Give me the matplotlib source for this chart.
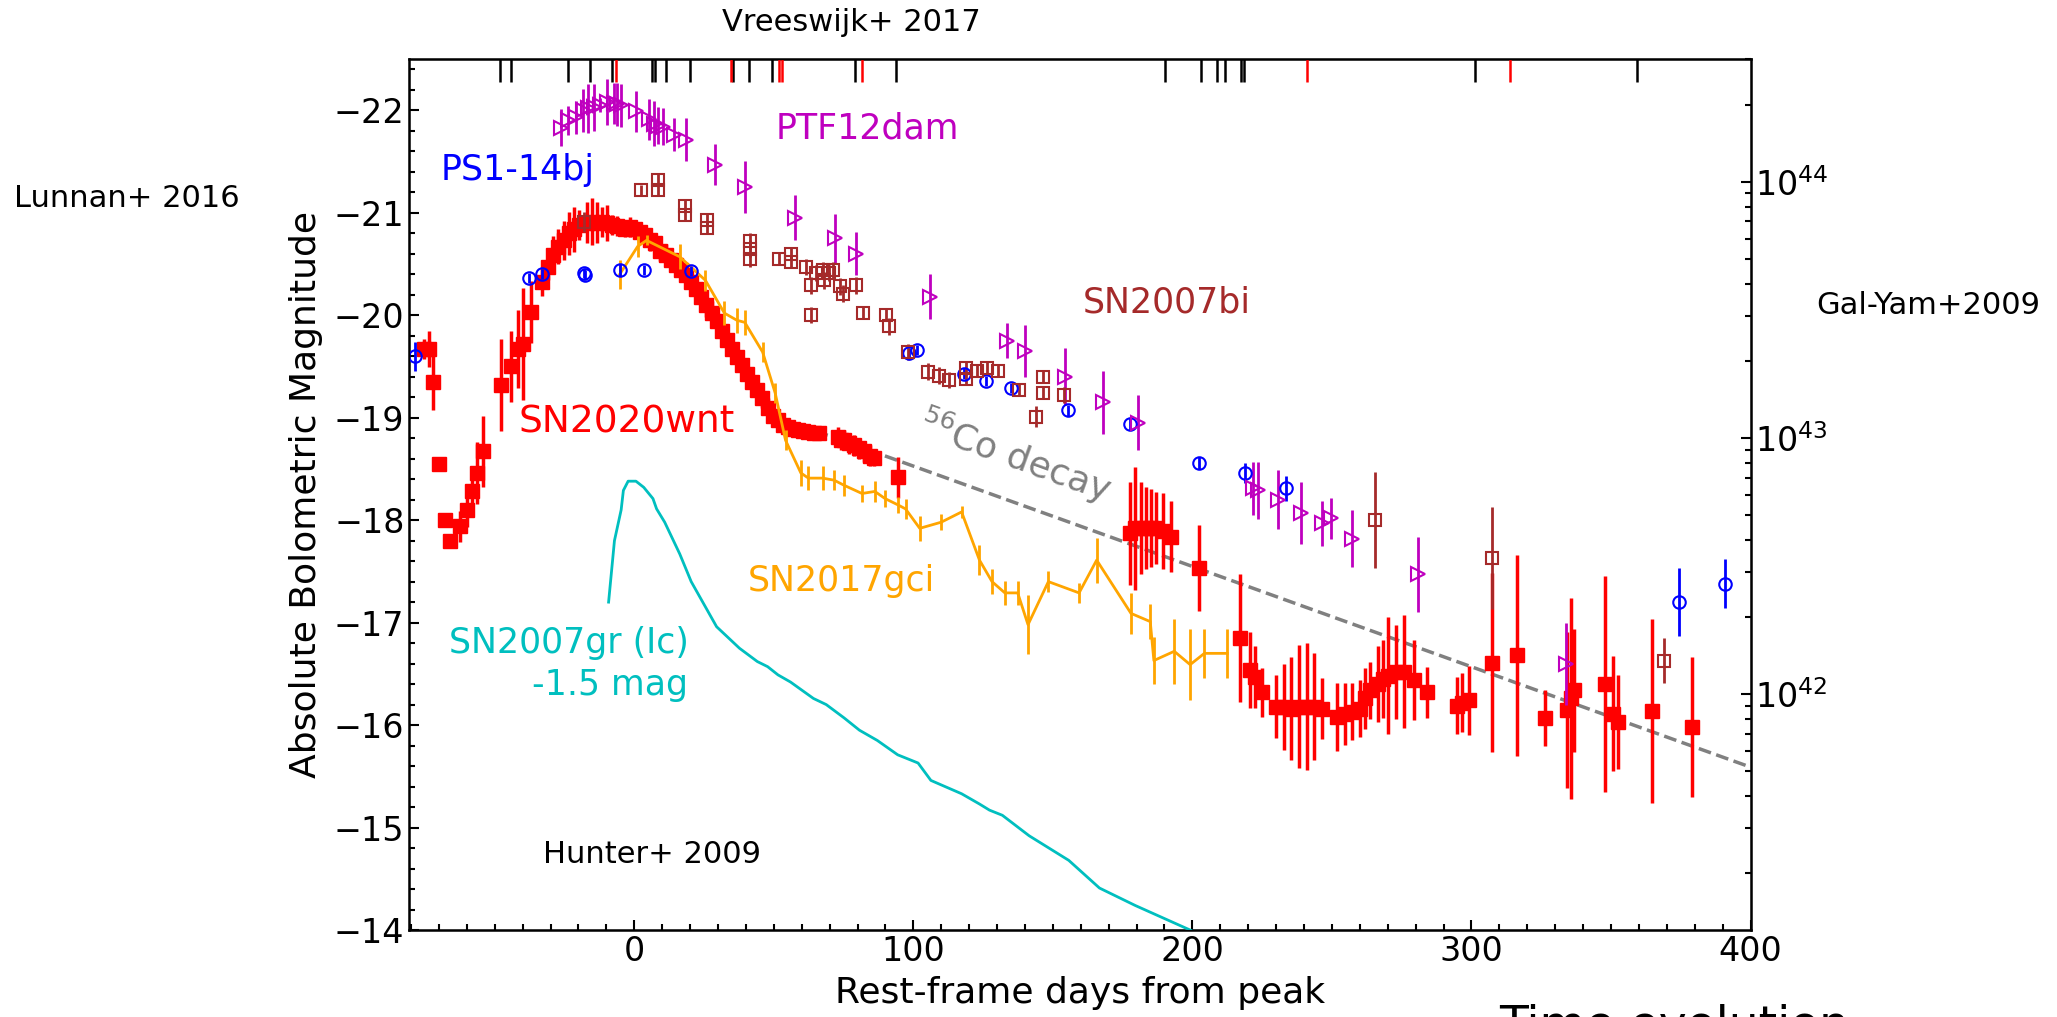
import numpy as np
import matplotlib
matplotlib.use("Agg")
import matplotlib.pyplot as plt
from matplotlib.ticker import MultipleLocator

# SN2020wnt (red filled squares)
wnt_t = [-75.5, -73.5, -72.0, -70.1, -67.8, -66.1, -62.3, -60.1, -58.3, -56.5, -54.2,
         -47.7, -44.0, -41.8, -40.0, -36.9, -33.0, -30.8, -29.0, -27.2, -25.3, -23.5,
         -21.7, -19.9, -17.1, -15.3, -13.5, -11.6, -9.8, -8.0, -6.2, -3.4, -1.6, 0.2,
         2.1, 3.9, 5.7, 7.6, 9.4, 11.2, 13.0, 14.9, 16.7, 18.5, 20.4, 22.2, 24.0, 25.8,
         27.7, 29.5, 31.3, 33.2, 35.0, 36.8, 38.6, 40.5, 42.3, 44.1, 45.9, 47.8, 49.6,
         51.5, 53.3, 55.1, 57.0, 58.8, 60.6, 62.4, 64.3, 66.1, 73.0, 74.1, 75.2, 77.1,
         78.9, 80.7, 82.5, 84.4, 85.8, 94.4, 177.8, 179.6, 181.5, 183.3, 185.1, 187.0,
         189.3, 192.4, 202.2, 217.1, 220.8, 222.6, 224.8, 229.9, 232.7, 235.4, 238.2,
         240.9, 243.6, 246.4, 251.9, 254.6, 257.3, 260.1, 261.9, 263.8, 266.5, 268.4,
         270.2, 272.9, 275.7, 279.3, 284.2, 294.8, 296.7, 299.1, 307.3, 316.2, 326.5,
         334.1, 335.6, 336.9, 347.9, 350.6, 352.4, 364.7, 379.0]
wnt_m = [-19.67, -19.67, -19.35, -18.55, -18.00, -17.80, -17.94, -18.10, -18.28, -18.46, -18.67,
         -19.32, -19.50, -19.67, -19.72, -20.03, -20.32, -20.47, -20.59, -20.67, -20.73, -20.80,
         -20.84, -20.88, -20.90, -20.91, -20.90, -20.91, -20.90, -20.88, -20.87, -20.84, -20.86, -20.84,
         -20.81, -20.78, -20.73, -20.70, -20.63, -20.59, -20.54, -20.49, -20.44, -20.39, -20.32, -20.26, -20.18, -20.10,
         -20.02, -19.94, -19.85, -19.76, -19.67, -19.59, -19.51, -19.43, -19.35, -19.27, -19.19, -19.09, -19.02,
         -18.98, -18.93, -18.91, -18.89, -18.88, -18.87, -18.86, -18.85, -18.85, -18.81, -18.78, -18.78, -18.75,
         -18.73, -18.70, -18.67, -18.63, -18.61, -18.42, -17.87, -17.92, -17.92, -17.92, -17.92, -17.92,
         -17.89, -17.84, -17.53, -16.85, -16.54, -16.47, -16.32, -16.18, -16.18, -16.16, -16.18,
         -16.18, -16.18, -16.16, -16.08, -16.11, -16.13, -16.16, -16.26, -16.34, -16.40, -16.45,
         -16.48, -16.52, -16.52, -16.44, -16.32, -16.19, -16.22, -16.24, -16.61, -16.68, -16.07,
         -16.15, -16.26, -16.34, -16.40, -16.11, -16.03, -16.14, -15.98]
wnt_e = [0.10, 0.18, 0.28, 0.05, 0.05, 0.06, 0.15, 0.17, 0.22, 0.30, 0.35,
         0.45, 0.35, 0.38, 0.55, 0.30, 0.13, 0.13, 0.18, 0.17, 0.19, 0.21,
         0.22, 0.15, 0.20, 0.23, 0.20, 0.15, 0.18, 0.10, 0.10, 0.08, 0.10, 0.08,
         0.08, 0.08, 0.10, 0.10, 0.10, 0.10, 0.10, 0.12, 0.12, 0.12, 0.12, 0.12, 0.12, 0.12,
         0.12, 0.12, 0.12, 0.12, 0.12, 0.12, 0.12, 0.12, 0.12, 0.12, 0.10, 0.10, 0.10,
         0.10, 0.08, 0.08, 0.08, 0.08, 0.06, 0.06, 0.06, 0.05, 0.10, 0.10, 0.10, 0.10,
         0.10, 0.10, 0.10, 0.10, 0.08, 0.20, 0.50, 0.60, 0.45, 0.40, 0.38, 0.35,
         0.37, 0.35, 0.42, 0.62, 0.37, 0.30, 0.24, 0.31, 0.42, 0.50, 0.60,
         0.62, 0.52, 0.30, 0.33, 0.30, 0.28, 0.28, 0.30, 0.28, 0.37, 0.38,
         0.57, 0.46, 0.55, 0.39, 0.25, 0.28, 0.29, 0.34, 0.87, 0.98, 0.27,
         0.76, 0.98, 0.60, 1.05, 0.56, 0.46, 0.90, 0.68]

# PS1-14bj (blue open circles)
ps1_t = [-78.4, -37.6, -33.2, -18.0, -17.5, -5.2, 3.5, 20.4, 98.6, 101.2, 118.2, 126.1,
         135.0, 155.3, 177.7, 202.2, 218.9, 233.6, 374.4, 390.9]
ps1_m = [-19.60, -20.36, -20.40, -20.41, -20.39, -20.44, -20.44, -20.43, -19.63, -19.66, -19.43, -19.36,
         -19.29, -19.07, -18.94, -18.56, -18.46, -18.31, -17.20, -17.38]
ps1_e = [0.14, 0.05, 0.05, 0.05, 0.05, 0.06, 0.05, 0.05, 0.05, 0.05, 0.05, 0.05,
         0.05, 0.05, 0.06, 0.06, 0.10, 0.12, 0.33, 0.24]

# PTF12dam (magenta open triangles)
ptf_t = [-26.1, -23.9, -20.8, -18.4, -16.6, -14.4, -12.2, -9.8, -7.4, -6.1, -4.7, 0.6, 5.2,
         7.2, 8.5, 10.3, 14.3, 18.5, 29.0, 39.6, 57.5, 72.1, 79.4, 105.8, 133.7, 140.1,
         154.4, 168.1, 180.4, 221.7, 223.6, 230.8, 239.1, 246.4, 249.7, 257.3, 280.7, 333.8]
ptf_m = [-21.83, -21.90, -21.93, -22.00, -22.02, -22.03, -22.05, -22.08, -22.07, -22.06, -22.05, -21.99, -21.91,
         -21.87, -21.85, -21.84, -21.76, -21.71, -21.47, -21.25, -20.95, -20.75, -20.60, -20.18, -19.75, -19.65,
         -19.40, -19.15, -18.95, -18.31, -18.29, -18.20, -18.07, -17.97, -18.02, -17.82, -17.47, -16.60]
ptf_e = [0.18, 0.14, 0.16, 0.21, 0.24, 0.23, 0.07, 0.22, 0.20, 0.21, 0.21, 0.20, 0.20,
         0.22, 0.18, 0.18, 0.16, 0.21, 0.20, 0.25, 0.22, 0.24, 0.21, 0.22, 0.17, 0.25,
         0.28, 0.31, 0.27, 0.26, 0.28, 0.29, 0.30, 0.22, 0.20, 0.28, 0.37, 0.40]

# SN2007bi (brown open squares)
bi_t = [-18.0, 2.4, 8.5, 8.5, 18.2, 18.2, 26.2, 26.2, 41.4, 41.4, 41.4, 51.8, 56.0, 56.0,
        61.5, 63.3, 65.2, 67.5, 67.9, 69.7, 71.2, 73.8, 74.9, 79.4, 63.3, 82.0, 90.2, 91.3,
        98.1, 105.4, 109.1, 112.7, 118.7, 118.7, 122.8, 126.4, 130.5, 137.8, 143.8, 146.6,
        146.6, 154.1, 265.6, 307.3, 369.0]
bi_m = [-20.91, -21.22, -21.32, -21.22, -21.07, -20.98, -20.93, -20.85, -20.72, -20.65, -20.55, -20.55, -20.60, -20.52,
        -20.47, -20.29, -20.41, -20.44, -20.34, -20.41, -20.44, -20.28, -20.21, -20.29, -20.00, -20.02, -20.00, -19.89,
        -19.64, -19.45, -19.41, -19.37, -19.48, -19.38, -19.46, -19.48, -19.46, -19.27, -19.01, -19.40,
        -19.24, -19.22, -18.00, -17.63, -16.63]
bi_e = [0.10, 0.05, 0.06, 0.06, 0.06, 0.06, 0.06, 0.06, 0.08, 0.08, 0.08, 0.06, 0.06, 0.06,
        0.08, 0.08, 0.08, 0.08, 0.08, 0.08, 0.08, 0.08, 0.08, 0.08, 0.08, 0.06, 0.06, 0.08,
        0.08, 0.08, 0.08, 0.08, 0.06, 0.06, 0.06, 0.06, 0.06, 0.06, 0.10, 0.06,
        0.06, 0.08, 0.47, 0.50, 0.22]

# SN2017gci (orange line)
gci_t = [-5.2, 1.2, 4.4, 16.3, 25.5, 32.3, 36.8, 39.6, 46.0, 50.5, 54.2, 59.7, 62.4, 67.5,
         71.6, 75.2, 81.6, 86.2, 89.9, 94.4, 97.2, 102.3, 110.0, 117.3, 123.7, 128.2, 132.8,
         137.4, 141.1, 148.4, 159.4, 165.7, 178.0, 184.9, 186.2, 193.5, 199.2, 204.3, 212.5]
gci_m = [-20.40, -20.67, -20.73, -20.57, -20.34, -20.02, -19.95, -19.93, -19.64, -19.24, -18.78, -18.46, -18.41, -18.41,
         -18.39, -18.34, -18.26, -18.28, -18.21, -18.15, -18.11, -17.92, -17.98, -18.08, -17.61, -17.40, -17.29,
         -17.29, -16.98, -17.40, -17.29, -17.61, -17.09, -17.01, -16.63, -16.72, -16.59, -16.70, -16.70]
gci_e = [0.14, 0.10, 0.05, 0.12, 0.10, 0.12, 0.12, 0.12, 0.10, 0.10, 0.10, 0.13, 0.12, 0.12,
         0.10, 0.10, 0.08, 0.10, 0.08, 0.08, 0.10, 0.12, 0.08, 0.06, 0.15, 0.12, 0.12,
         0.12, 0.29, 0.10, 0.10, 0.22, 0.20, 0.17, 0.23, 0.32, 0.35, 0.24, 0.24]

# SN2007gr (Ic), shifted by -1.5 mag (cyan line)
gr_t = [-9.2, -7.1, -4.7, -3.9, -2.2, 0.6, 3.4, 6.7, 8.0, 10.9, 16.3, 20.4, 29.5, 37.7, 44.1,
        47.8, 51.5, 56.0, 64.2, 68.8, 75.2, 80.7, 87.1, 94.4, 101.7, 106.3, 117.3, 123.7,
        127.3, 131.9, 141.5, 155.7, 166.7, 179.5, 199.2, 210.0]
gr_m = [-17.20, -17.80, -18.10, -18.29, -18.38, -18.38, -18.32, -18.21, -18.11, -17.98, -17.67, -17.40, -16.96, -16.75, -16.62,
        -16.57, -16.49, -16.42, -16.26, -16.20, -16.07, -15.95, -15.85, -15.71, -15.63, -15.46, -15.33, -15.23,
        -15.17, -15.12, -14.92, -14.68, -14.41, -14.24, -14.00, -13.85]

# 56Co decay line end points
co_t = [65.0, 400.0]
co_m = [-18.87, -15.59]

# Vreeswijk+ 2017 epochs
vr_black = [-48.0, -44.2, -23.6, -16.0, -8.1, 6.4, 7.4, 11.2, 19.8, 35.5, 41.2, 49.2, 79.2,
            93.7, 190.3, 203.0, 208.9, 211.6, 217.5, 218.6, 301.3, 359.2]
vr_red = [-6.4, 34.8, 52.0, 53.0, 81.5, 240.9, 313.7]


def mag2lum(m):
    return 3.828e33 * 10 ** (-0.4 * (np.asarray(m) - 4.74))


ymin, ymax = -14.0, -22.5

fig = plt.figure(figsize=(20.57, 10.17), dpi=100)
ax = fig.add_axes([0.199, 0.0855, 0.652, 0.8565])

ax.plot(co_t, co_m, '--', color='gray', lw=2.5, zorder=1)
ax.errorbar(wnt_t, wnt_m, yerr=wnt_e, fmt='s', color='red', ms=10, elinewidth=2.5, capsize=0, zorder=2)
ax.errorbar(gci_t, gci_m, yerr=gci_e, fmt='-', color='orange', lw=2, elinewidth=2, capsize=0, zorder=3)
ax.plot(gr_t, gr_m, '-', color='c', lw=2, zorder=3)
ax.errorbar(ps1_t, ps1_m, yerr=ps1_e, fmt='o', color='b', mfc='none', ms=9, mew=1.5,
            elinewidth=2, capsize=0, zorder=4)
ax.errorbar(ptf_t, ptf_m, yerr=ptf_e, fmt='>', color='m', mfc='none', ms=10, mew=1.5,
            elinewidth=2, capsize=0, zorder=4)
ax.errorbar(bi_t, bi_m, yerr=bi_e, fmt='s', color='brown', mfc='none', ms=9, mew=1.5,
            elinewidth=2, capsize=0, zorder=4)

ax.vlines(vr_black, ymax, ymax + 0.22, colors='k', lw=1.8, zorder=5)
ax.vlines(vr_red, ymax, ymax + 0.22, colors='red', lw=1.8, zorder=5)

ax.set_xlim(-80.6, 400)
ax.set_ylim(ymin, ymax)
ax.xaxis.set_minor_locator(MultipleLocator(10))
ax.yaxis.set_minor_locator(MultipleLocator(0.2))
ax.tick_params(which='both', direction='in', top=False, right=False, labelsize=24, width=1.5)
ax.tick_params(which='major', length=7)
ax.tick_params(which='minor', length=4)
for s in ax.spines.values():
    s.set_linewidth(1.8)
ax.set_xlabel('Rest-frame days from peak', fontsize=26, labelpad=6)
ax.set_ylabel('Absolute Bolometric Magnitude', fontsize=26, labelpad=8)

ax2 = ax.twinx()
ax2.set_yscale('log')
ax2.set_ylim(mag2lum(ymin), mag2lum(ymax))
ax2.tick_params(which='both', direction='in', labelsize=24, width=1.5)
ax2.tick_params(which='major', length=7)
ax2.tick_params(which='minor', length=4)

fs = 25
ax.text(-69.5, -21.42, 'PS1-14bj', color='b', fontsize=fs, va='center')
ax.text(50.5, -21.82, 'PTF12dam', color='m', fontsize=fs, va='center')
ax.text(160.6, -20.12, 'SN2007bi', color='brown', fontsize=fs, va='center')
ax.text(-41.6, -18.95, 'SN2020wnt', color='red', fontsize=27, va='center')
ax.text(40.5, -17.41, 'SN2017gci', color='orange', fontsize=fs, va='center')
ax.text(19.4, -16.6, 'SN2007gr (Ic)\n-1.5 mag', color='c', fontsize=fs, ha='right',
        va='center', multialignment='right', linespacing=1.3)
ax.text(136.6, -18.62, r'$^{56}$Co decay', color='gray', fontsize=26, rotation=-20,
        ha='center', va='center', rotation_mode='anchor')
ax.text(-32.6, -14.74, 'Hunter+ 2009', color='k', fontsize=22, va='center')

fig.text(0.414, 0.978, 'Vreeswijk+ 2017', fontsize=22, ha='center', va='center')
fig.text(0.007, 0.805, 'Lunnan+ 2016', fontsize=22, va='center')
fig.text(0.883, 0.700, 'Gal-Yam+2009', fontsize=22, va='center')
# caption cut off by the bottom edge
fig.text(0.729, -0.021, 'Time evolution', fontsize=34, va='baseline')

fig.savefig('out.png', dpi=100)
